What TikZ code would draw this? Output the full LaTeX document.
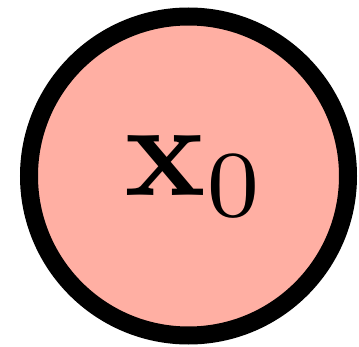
\documentclass[tikz,border=0pt]{standalone}
\definecolor{nodefill}{RGB}{255,175,163}
\tikzset{
  bigcircle/.style={circle, draw=black, line width=18pt, fill=nodefill, minimum size=319pt, inner sep=0pt},
  biglabel/.style={inner sep=0pt, scale=13.5}
}
\begin{document}
\begin{tikzpicture}[x=1pt,y=1pt]
\useasboundingbox (0,0) rectangle (359,346);
\node[bigcircle] (c) at (188.5,170) {};
\node[biglabel, anchor=base west] (t) at (122,150) {$\mathbf{x}_0$};
\end{tikzpicture}
\end{document}
